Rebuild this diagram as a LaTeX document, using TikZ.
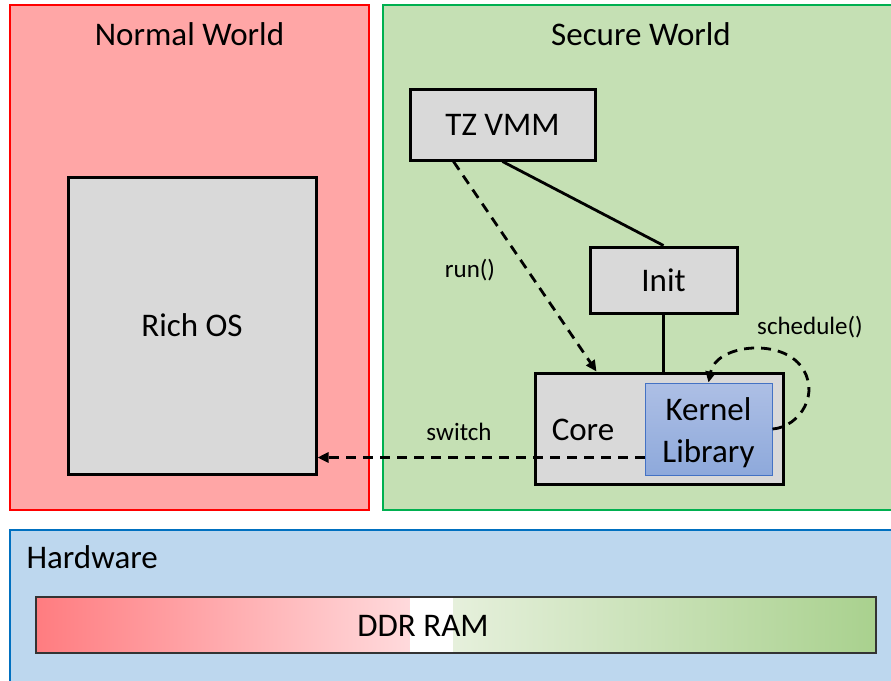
\documentclass[tikz,border=0pt]{standalone}
\usepackage{fontspec}
\setmainfont{Carlito}
\usetikzlibrary{arrows.meta,calc}
\definecolor{nwfill}{HTML}{FFA6A6}
\definecolor{nwline}{HTML}{FF0000}
\definecolor{swfill}{HTML}{C5E0B4}
\definecolor{swline}{HTML}{00B050}
\definecolor{hwfill}{HTML}{BDD7EE}
\definecolor{hwline}{HTML}{0070C0}
\definecolor{boxgrey}{HTML}{D9D9D9}
\definecolor{kltop}{HTML}{ADBFE5}
\definecolor{klbot}{HTML}{8EA9DB}
\definecolor{klline}{HTML}{4472C4}
\definecolor{ramred}{HTML}{FF7C80}
\definecolor{rampink}{HTML}{FFDADC}
\definecolor{ramlgreen}{HTML}{E6F0DC}
\definecolor{ramgreen}{HTML}{A9D18E}
\tikzset{
  x=1pt, y=-1pt,
  bigtext/.style={font=\fontsize{33}{38}\selectfont},
  smalltext/.style={font=\fontsize{25}{29}\selectfont},
  worldbox/.style={line width=2.4pt},
  greybox/.style={draw=black, fill=boxgrey, line width=3pt, bigtext, inner sep=0pt},
  link/.style={line width=2.8pt},
  call/.style={line width=2.8pt, dash pattern=on 10pt off 7pt, -{Triangle[length=11pt,width=10pt]}},
}
\begin{document}
\begin{tikzpicture}
\useasboundingbox (0,0) rectangle (891,680);
\fill[white] (0,0) rectangle (891,680);

% the two worlds and the hardware layer
\draw[worldbox, draw=nwline, fill=nwfill] (10,5) rectangle (369,510);
\draw[worldbox, draw=swline, fill=swfill] (383,5) rectangle (895,510);
\draw[worldbox, draw=hwline, fill=hwfill] (10,530) rectangle (895,690);

\node[bigtext] (nwtitle) at (189.5,34) {Normal World};
\node[bigtext] (swtitle) at (641,34) {Secure World};
\node[bigtext, anchor=west] (hwtitle) at (23,557) {Hardware};

% DDR RAM bar: red half fading to white, then white to green
\shade[left color=ramred, right color=rampink] (36,597) rectangle (410,653);
\fill[white] (410,597) rectangle (453,653);
\shade[left color=ramlgreen, right color=ramgreen] (453,597) rectangle (876,653);
\node[draw=black!80, line width=2pt, minimum width=840pt, minimum height=56pt,
      inner sep=0pt] (ram) at (456,625) {};
\node[bigtext] (ramlabel) at (423,626) {DDR RAM};

% components
\node[greybox, minimum width=248pt, minimum height=297pt] (rich) at (192,325.5) {Rich OS};
\node[greybox, minimum width=185pt, minimum height=71pt] (tz) at (502.5,124.5) {TZ VMM};
\node[greybox, minimum width=147pt, minimum height=66pt] (init) at (663.5,280) {Init};
\node[greybox, minimum width=248pt, minimum height=111pt] (core) at (659,428.5) {};
\node[bigtext] (corelabel) at (583,430) {Core};
\node[draw=klline, line width=1pt, top color=kltop, bottom color=klbot,
      minimum width=127pt, minimum height=92pt, inner sep=0pt] (kl) at (708.5,429) {};
\node[bigtext, align=center] (kllabel) at (708.5,433) {Kernel\\[4pt]Library};

% connectors
\coordinate (runstart) at ($(tz.south west)+(45,0)$);
\coordinate (runend) at ($(core.north west)+(63,0)$);
\coordinate (swstart) at ($(kl.south west)+(0,-18)$);
\draw[link] (tz.south) -- (init.north);
\draw[link] (init.south) -- (init.south |- core.north);
\draw[call] (runstart) -- (runend);
\draw[call] (swstart) -- (swstart -| rich.east);
\draw[call] (kl.east) .. controls (800,427) and (822,392) .. (800,365)
            .. controls (778,338) and (716,345) .. (kl.north);

% call labels
\node[smalltext] (runlbl) at (470,270) {run()};
\node[smalltext] (switchlbl) at (459,432) {switch};
\node[smalltext] (schedlbl) at (810,327) {schedule()};
\end{tikzpicture}
\end{document}
